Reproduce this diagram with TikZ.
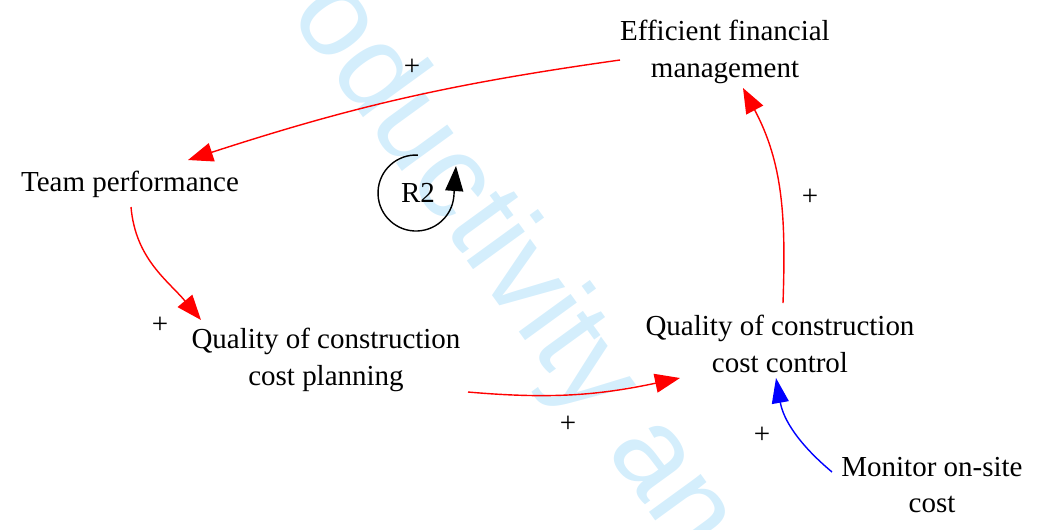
\documentclass[tikz,border=0pt]{standalone}
\usepackage{fontspec}
\setmainfont{Liberation Serif}
\newfontfamily\wmfont{Liberation Sans}
\usetikzlibrary{arrows.meta,calc}
\definecolor{wmblue}{RGB}{212,238,252}

\begin{document}
\begin{tikzpicture}[x=0.02cm, y=0.02cm,
    var/.style={align=center, inner sep=2pt, font=\fontsize{16.5}{21}\selectfont},
    sign/.style={inner sep=0pt, font=\fontsize{16.5}{21}\selectfont},
    posred/.style={red, line width=0.8pt, -{Triangle[length=0.5cm, width=0.38cm]}},
    posblue/.style={blue, line width=0.8pt, -{Triangle[length=0.5cm, width=0.34cm]}}]
    \useasboundingbox (0,0) rectangle (1041,-529);
    \clip (0,0) rectangle (1041,-529);

    % watermark
    \node[rotate=-54, text=wmblue, font=\wmfont\fontsize{69}{69}\selectfont] (wm) at (512,-269) {oductivity an};

    % variables
    \node[var] (fin)  at (725,-52)  {Efficient financial\\management};
    \node[var] (team) at (130,-184) {Team performance};
    \node[var] (plan) at (326,-360) {Quality of construction\\cost planning};
    \node[var] (ctrl) at (780,-344) {Quality of construction\\cost control};
    \node[var] (mon)  at (932,-485) {Monitor on-site\\cost};

    % links
    \draw[posred] ($(fin)+(-105,-8)$) to[out=188, in=18] ($(team)+(58,24)$);
    \draw[posred] ($(team)+(1,-23)$) to[out=-85, in=130] ($(plan)+(-125,40)$);
    \draw[posred] ($(plan)+(142,-32)$) to[out=-5, in=192] ($(ctrl)+(-100,-34)$);
    \draw[posred] ($(ctrl)+(3,41)$) to[out=88, in=-62] ($(fin)+(18,-36)$);
    \draw[posblue] ($(mon)+(-100,13)$) to[out=140, in=-80] ($(ctrl)+(-4,-34)$);

    % polarities
    \node[sign] (p1) at (412,-67)  {+};
    \node[sign] (p2) at (160,-325) {+};
    \node[sign] (p3) at (568,-424) {+};
    \node[sign] (p4) at (810,-197) {+};
    \node[sign] (p5) at (762,-435) {+};

    % loop
    \node[var] (loop) at (418,-193) {R2};
    \draw[line width=0.8pt, -{Triangle[length=0.5cm, width=0.36cm]}]
        ($(loop)+(-2,0)+(87:38)$) arc[start angle=87, end angle=355, radius=38]
        -- ($(loop)+(38,27)$);
\end{tikzpicture}
\end{document}
